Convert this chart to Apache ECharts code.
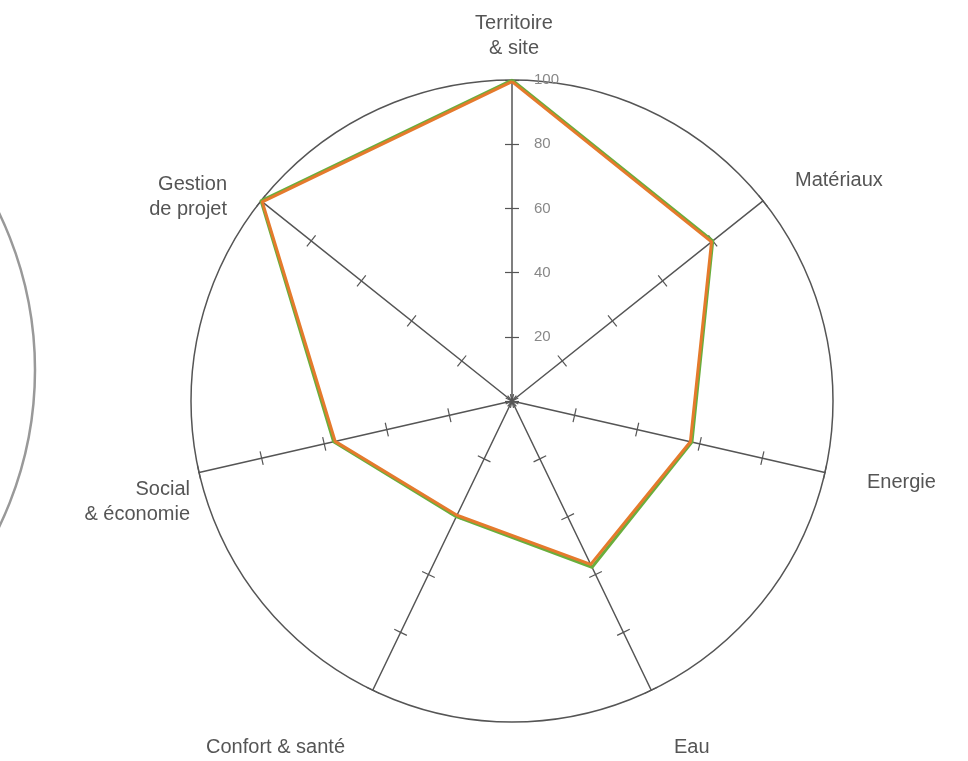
<!DOCTYPE html>
<html>
<head>
<meta charset="utf-8">
<script src="https://cdn.jsdelivr.net/npm/echarts@6/dist/echarts.min.js"></script>
<style>html,body{margin:0;padding:0;background:#fff}#c{width:968px;height:761px}</style>
</head>
<body>
<div id="c"></div>
<script>
const categories = ['Territoire\n& site', 'Gestion\nde projet', 'Social\n& économie', 'Confort & santé', 'Eau', 'Energie', 'Matériaux'];
const seriesGreen = [100, 100, 57, 40, 57.5, 57.5, 80];
const seriesOrange = [99.5, 99.5, 56.5, 39.5, 56.5, 57, 79.5];
const axisMax = 100;
const tickLabels = [20, 40, 60, 80, 100];

// layout of the category names (position + alignment), kept apart from data
const nameLayout = [
  {x: 514, y: 36, align: 'center'},
  {x: 227, y: 197, align: 'right'},
  {x: 190, y: 502, align: 'right'},
  {x: 345, y: 747, align: 'right'},
  {x: 674, y: 747, align: 'left'},
  {x: 867, y: 482, align: 'left'},
  {x: 795, y: 180, align: 'left'}
];

const chart = echarts.init(document.getElementById('c'), null, {renderer: 'canvas'});
const ink = '#555';
const font = 'Liberation Sans, Arial, sans-serif';
const indicators = categories.map((c, i) => {
  const o = {name: c, min: 0, max: axisMax};
  if (i === 0) o.axisLabel = {show: true};
  return o;
});
const indicators2 = categories.map(() => ({name: '', min: 0, max: axisMax}));
const common = {center: [512, 401], radius: 321, startAngle: 90, shape: 'circle', splitNumber: 5};

const nameGraphics = categories.map((c, i) => ({
  type: 'text', x: nameLayout[i].x, y: nameLayout[i].y, silent: true,
  style: {text: c, fill: ink, font: '20px ' + font, lineHeight: 25,
    textAlign: nameLayout[i].align, textVerticalAlign: 'middle'}
}));

chart.setOption({
  backgroundColor: '#fff',
  animation: false,
  graphic: [{type: 'circle', shape: {cx: -326, cy: 370, r: 361}, style: {fill: 'none', stroke: '#999', lineWidth: 2.5}}].concat(nameGraphics),
  radar: [
    Object.assign({}, common, {
      indicator: indicators,
      axisName: {show: false},
      axisLine: {lineStyle: {color: ink, width: 1.5}},
      axisTick: {show: true, length: 7, lineStyle: {color: ink, width: 1.2}},
      axisLabel: {show: false, color: '#888', fontSize: 15, fontFamily: font, margin: -22, align: 'left',
        formatter: v => tickLabels.indexOf(v) >= 0 ? String(v) : ''},
      splitLine: {show: true, lineStyle: {color: ['transparent', 'transparent', 'transparent', 'transparent', 'transparent', ink], width: 1.5}},
      splitArea: {show: false}
    }),
    Object.assign({}, common, {
      indicator: indicators2,
      axisName: {show: false},
      axisLine: {show: false},
      axisTick: {show: true, length: -7, lineStyle: {color: ink, width: 1.2}},
      axisLabel: {show: false},
      splitLine: {show: false},
      splitArea: {show: false}
    })
  ],
  series: [{
    type: 'radar', radarIndex: 0, symbol: 'none',
    data: [
      {value: seriesGreen, name: 'A', lineStyle: {color: '#6aae3c', width: 3}},
      {value: seriesOrange, name: 'B', lineStyle: {color: '#e57a2c', width: 3}}
    ]
  }]
});
</script>
</body>
</html>
